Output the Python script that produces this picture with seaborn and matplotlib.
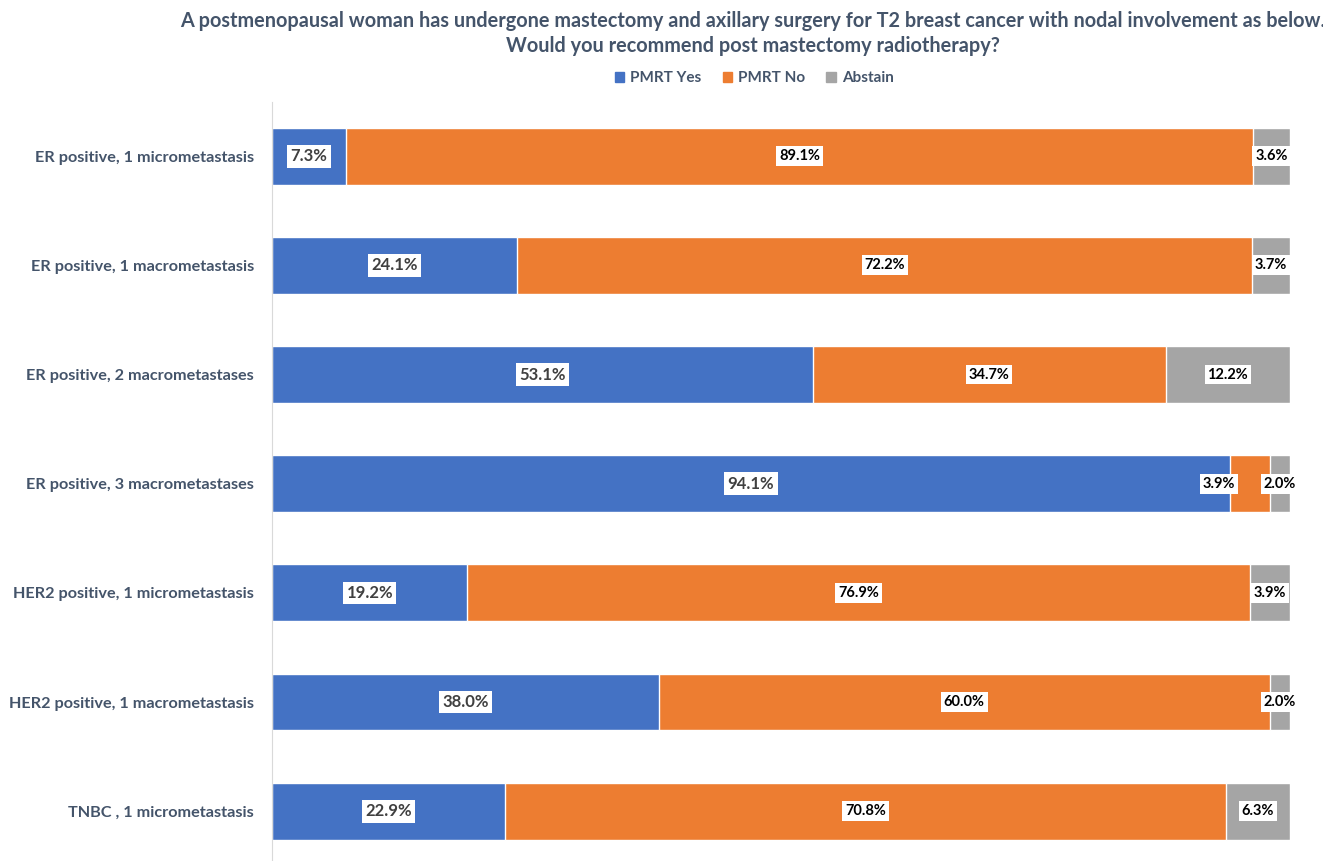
import pandas as pd
import matplotlib.pyplot as plt
import seaborn as sns
from matplotlib.patches import Patch

# dados
cenarios = ['ER positive, 1 micrometastasis', 'ER positive, 1 macrometastasis',
            'ER positive, 2 macrometastases', 'ER positive, 3 macrometastases',
            'HER2 positive, 1 micrometastasis', 'HER2 positive, 1 macrometastasis',
            'TNBC , 1 micrometastasis']
pmrt_sim = [7.3, 24.1, 53.1, 94.1, 19.2, 38.0, 22.9]
pmrt_nao = [89.1, 72.2, 34.7, 3.9, 76.9, 60.0, 70.8]
abstencao = [3.6, 3.7, 12.2, 2.0, 3.9, 2.0, 6.3]

azul = '#4472C4'
laranja = '#ED7D31'
cinza = '#A5A5A5'
texto = '#44546A'

df = pd.DataFrame({'cenario': cenarios, 'sim': pmrt_sim, 'nao': pmrt_nao, 'abst': abstencao})
df['sim_nao'] = df['sim'] + df['nao']
df['total'] = df['sim_nao'] + df['abst']

sns.set_style('white')
plt.rcParams['font.family'] = ['Lato', 'DejaVu Sans']

fig = plt.figure(figsize=(13.23, 8.61), dpi=100)
ax = fig.add_axes([0.2056, -0.0056, 0.7694, 0.8876])

# barras empilhadas: total primeiro, depois sobreposição
sns.barplot(data=df, y='cenario', x='total', color=cinza, width=0.52, ax=ax, orient='h', saturation=1)
sns.barplot(data=df, y='cenario', x='sim_nao', color=laranja, width=0.52, ax=ax, orient='h', saturation=1)
sns.barplot(data=df, y='cenario', x='sim', color=azul, width=0.52, ax=ax, orient='h', saturation=1)

ax.set_xlim(0, 100)
ax.set_ylim(6.5, -0.5)
ax.set_xlabel('')
ax.set_ylabel('')
ax.set_xticks([])
for s in ['top', 'right', 'bottom']:
    ax.spines[s].set_visible(False)
ax.spines['left'].set_color('#D9D9D9')
ax.tick_params(axis='y', length=0, pad=13)
for lbl in ax.get_yticklabels():
    lbl.set_fontsize(11.7)
    lbl.set_fontweight('bold')
    lbl.set_color(texto)

caixa = dict(boxstyle='square,pad=0.2', facecolor='white', edgecolor='none')
for i, row in df.iterrows():
    ax.text(row['sim'] / 2, i, f"{row['sim']:.1f}%", ha='center', va='center',
            fontsize=12, fontweight='bold', color='#404040', bbox=caixa)
    xn = row['sim'] + row['nao'] / 2
    if row['nao'] < 6:
        xn -= 3  # evita sobrepor o rótulo de abstenção
    ax.text(xn, i, f"{row['nao']:.1f}%", ha='center', va='center',
            fontsize=10.5, fontweight='bold', color='black', bbox=caixa)
    ax.text(row['sim_nao'] + row['abst'] / 2, i, f"{row['abst']:.1f}%", ha='center', va='center',
            fontsize=10.5, fontweight='bold', color='black', bbox=caixa, clip_on=False)

fig.text(0.569, 0.976, 'A postmenopausal woman has undergone mastectomy and axillary surgery for T2 breast cancer with nodal involvement as below.',
         ha='center', va='center', fontsize=14.3, fontweight='bold', color=texto)
fig.text(0.569, 0.947, 'Would you recommend post mastectomy radiotherapy?',
         ha='center', va='center', fontsize=14.3, fontweight='bold', color=texto)

alcas = [Patch(color=azul, label='PMRT Yes'), Patch(color=laranja, label='PMRT No'), Patch(color=cinza, label='Abstain')]
leg = fig.legend(handles=alcas, loc='center', bbox_to_anchor=(0.57, 0.909), ncol=3, frameon=False,
                 handlelength=0.6, handleheight=0.6, handletextpad=0.4, columnspacing=1.4,
                 prop={'weight': 'bold', 'size': 11})
for t in leg.get_texts():
    t.set_color(texto)

fig.savefig('out.png', dpi=100)
